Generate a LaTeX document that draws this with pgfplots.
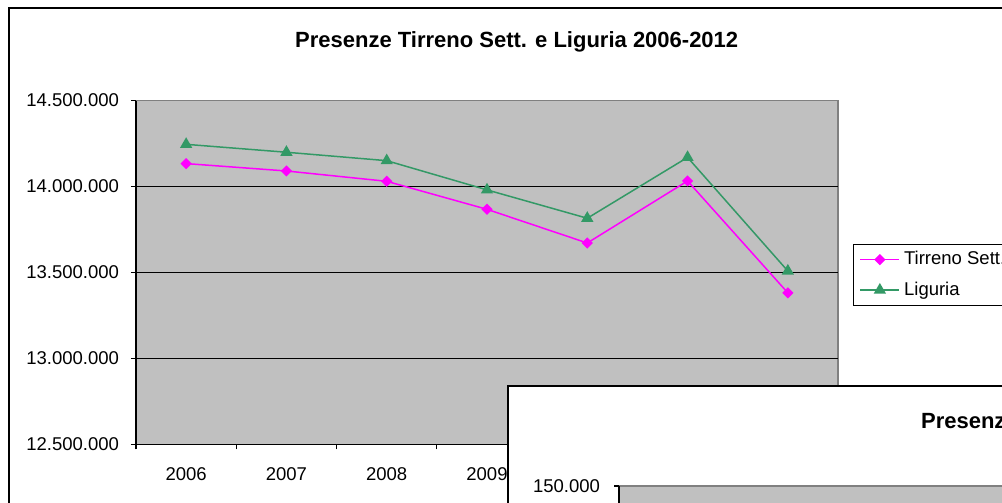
\documentclass[border=0pt]{standalone}
\usepackage{pgfplots}
\pgfplotsset{compat=1.18}
\usepackage{pgfplotstable}
\usepackage{fontspec}
\setmainfont{Liberation Sans}
\definecolor{plotgray}{RGB}{192,192,192}
\definecolor{bordergray}{RGB}{128,128,128}
\definecolor{tirreno}{RGB}{255,0,255}
\definecolor{liguria}{RGB}{51,153,102}
\newcommand{\tickfont}{\fontsize{9.25}{11}\selectfont}
\newcommand{\titlefont}{\fontsize{11}{13}\selectfont\bfseries}

\pgfplotstableread{
x tirreno liguria
0 14133000 14245000
1 14090000 14199000
2 14030000 14150000
3 13867000 13980000
4 13671000 13815000
5 14032000 14169000
6 13381000 13508000
}\datatable

\begin{document}
\begin{tikzpicture}
\useasboundingbox (0,0) rectangle (501pt,-251.5pt);
\clip (0,0) rectangle (501pt,-251.5pt);
\fill[white] (0,0) rectangle (501pt,-251.5pt);
\draw[black, line width=1pt] (4.5pt,-4pt) rectangle (560pt,-300pt);
\node[anchor=base, font=\titlefont, inner sep=0pt] at (258.35pt,-23.7pt) {Presenze Tirreno Sett. e Liguria 2006-2012};
\begin{axis}[
  at={(68pt,-222.15pt)}, anchor=south west,
  scale only axis, width=351pt, height=171.9pt,
  xmin=-0.5, xmax=6.5, ymin=12500000, ymax=14500000,
  axis x line*=bottom, axis y line*=left,
  axis line style={black, line width=0.6pt, -},
  axis background/.style={fill=plotgray, draw=bordergray, line width=0.6pt},
  xtick={-0.5,0.5,...,6.5},
  x tick label as interval,
  xticklabels={2006,2007,2008,2009,2010,2011,2012},
  xticklabel style={yshift=-5.5pt},
  yticklabel style={xshift=-2.5pt},
  ytick={13000000,13500000,14000000},
  yticklabels={13.000.000,13.500.000,14.000.000},
  extra y ticks={12500000,14500000},
  extra y tick labels={12.500.000,14.500.000},
  extra y tick style={grid=none},
  ymajorgrids, grid style={black, line width=0.6pt},
  tick align=outside, major tick length=2.5pt,
  tick style={black, line width=0.6pt},
  ticklabel style={font=\tickfont},
  scaled y ticks=false,
  legend style={at={(1.0214,0.583)}, anchor=north west, draw=black, line width=0.6pt,
    fill=white, font=\tickfont, inner xsep=3pt, inner ysep=1.5pt, row sep=3pt},
  legend cell align=left,
  legend image code/.code={\draw[mark repeat=2,mark phase=2,#1] plot coordinates {(0pt,0pt) (9.75pt,0pt) (19.5pt,0pt)};},
]
\addplot[tirreno, line width=0.75pt, mark=square*, mark size=1.6pt, mark options={rotate=45, solid}] table[x=x,y=tirreno]{\datatable};
\addlegendentry{Tirreno Sett.}
\addplot[liguria, line width=0.75pt, mark=triangle*, mark size=2.8pt, mark options={solid}] table[x=x,y=liguria]{\datatable};
\addlegendentry{Liguria}
\end{axis}
\draw[black, line width=1pt, fill=white] (254.15pt,-193.15pt) rectangle (560pt,-300pt);
\node[anchor=base west, font=\titlefont, inner sep=0pt] at (460.35pt,-214pt) {Presenze Tirreno Sett. e Liguria 2006-2012};
\begin{axis}[
  at={(309.5pt,-243pt)}, anchor=north west,
  scale only axis, width=300pt, height=100pt,
  xmin=0, xmax=1, ymin=0, ymax=150000,
  axis x line*=bottom, axis y line*=left,
  axis line style={black, line width=0.6pt, -},
  axis background/.style={fill=plotgray, draw=bordergray, line width=0.6pt},
  xtick=\empty,
  ytick={150000}, yticklabels={150.000},
  yticklabel style={xshift=-3.5pt},
  tick align=outside, major tick length=2.5pt,
  tick style={black, line width=0.6pt},
  ticklabel style={font=\tickfont},
  scaled y ticks=false,
]
\addplot[draw=none] coordinates {(0,0) (1,150000)};
\end{axis}
\end{tikzpicture}
\end{document}
